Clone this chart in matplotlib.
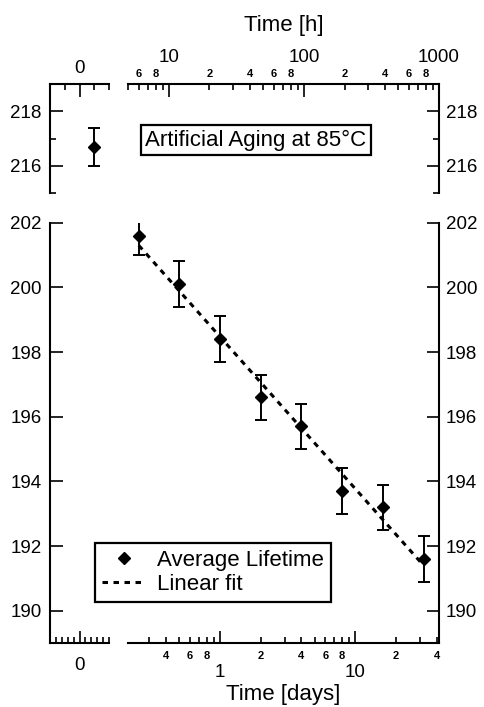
import numpy as np
import matplotlib
matplotlib.use("Agg")
import matplotlib.pyplot as plt
from matplotlib.ticker import MultipleLocator, FuncFormatter, LogLocator

plt.rcParams['font.family'] = ['Liberation Sans', 'DejaVu Sans']

# === Data ===
days = [0.25, 0.5, 1, 2, 4, 8, 16, 32]
lifetime = [201.6, 200.1, 198.4, 196.6, 195.7, 193.7, 193.2, 191.6]
lifetime_err = [0.6, 0.7, 0.7, 0.7, 0.7, 0.7, 0.7, 0.7]

t0_pos = [0.5]          # unaged sample, drawn in the "0" panel
t0_life = [216.7]
t0_err = [0.7]

fit_days = [0.25, 32]
fit_life = [201.3, 191.4]

hours_lim = [5, 1000]
days_lim = [h / 24 for h in hours_lim]

LABEL_FS = 16
TICK_FS = 13.5
MINOR_FS = 8


def major_fmt(v, pos):
    return "%g" % v


def minor_fmt(v, pos):
    d = int(round(v / 10 ** np.floor(np.log10(v))))
    return str(d) if d in (2, 4, 6, 8) else ""


def style_common(ax):
    for s in ax.spines.values():
        s.set_linewidth(1.5)
    ax.tick_params(which='both', direction='in', width=1.2, labelsize=TICK_FS)
    ax.tick_params(which='major', length=9)
    ax.tick_params(which='minor', length=4.5)


fig = plt.figure(figsize=(4.84, 7.07), dpi=100)

x_left, w_left = 50 / 484, 59 / 484
x_right, w_right = 128 / 484, 311 / 484
y_top, h_top = 1 - 193 / 707, 109 / 707
y_bot, h_bot = 1 - 643 / 707, 420.3 / 707

ax_tl = fig.add_axes([x_left, y_top, w_left, h_top])
ax_tr = fig.add_axes([x_right, y_top, w_right, h_top])
ax_bl = fig.add_axes([x_left, y_bot, w_left, h_bot])
ax_br = fig.add_axes([x_right, y_bot, w_right, h_bot])

for ax in (ax_tl, ax_tr, ax_bl, ax_br):
    style_common(ax)

# --- top left: t = 0 ---
ax_tl.errorbar(t0_pos, t0_life, yerr=t0_err, fmt='D', color='k', ms=6.5,
               capsize=4.5, elinewidth=1.4, capthick=1.4)
ax_tl.set_xlim(-1, 1)
ax_tl.set_ylim(215, 219)
ax_tl.spines['right'].set_visible(False)
ax_tl.spines['bottom'].set_visible(False)
ax_tl.xaxis.tick_top()
ax_tl.set_xticks([0])
ax_tl.set_xticklabels(['0'])
ax_tl.xaxis.set_minor_locator(MultipleLocator(0.5))
ax_tl.set_yticks([216, 218])
ax_tl.yaxis.set_minor_locator(MultipleLocator(1))
ax_tl.tick_params(axis='x', which='major', pad=5)
ax_tl.tick_params(axis='y', pad=6)

# --- top right: hours axis ---
ax_tr.set_xscale('log')
ax_tr.set_xlim(*hours_lim)
ax_tr.set_ylim(215, 219)
ax_tr.spines['left'].set_visible(False)
ax_tr.spines['bottom'].set_visible(False)
ax_tr.xaxis.tick_top()
ax_tr.yaxis.tick_right()
ax_tr.xaxis.set_major_locator(LogLocator(base=10))
ax_tr.xaxis.set_major_formatter(FuncFormatter(major_fmt))
ax_tr.xaxis.set_minor_locator(LogLocator(base=10, subs=np.arange(2, 10)))
ax_tr.xaxis.set_minor_formatter(FuncFormatter(minor_fmt))
ax_tr.tick_params(axis='x', which='major', pad=13)
ax_tr.tick_params(axis='x', which='minor', pad=3.5, labelsize=MINOR_FS)
for lab in ax_tr.xaxis.get_minorticklabels():
    lab.set_fontweight('bold')
ax_tr.set_yticks([216, 218])
ax_tr.yaxis.set_minor_locator(MultipleLocator(1))
ax_tr.tick_params(axis='y', pad=5)
ax_tr.xaxis.set_label_position('top')
ax_tr.set_xlabel("Time [h]", fontsize=LABEL_FS, labelpad=13)
ax_tr.text(0.41, 0.486, "Artificial Aging at 85°C", transform=ax_tr.transAxes,
           ha='center', va='center', fontsize=LABEL_FS,
           bbox=dict(boxstyle='square,pad=0.2', fc='white', ec='k', lw=1.6))

# --- bottom left ---
ax_bl.set_xlim(-1, 1)
ax_bl.set_ylim(189, 202)
ax_bl.spines['right'].set_visible(False)
ax_bl.spines['top'].set_visible(False)
ax_bl.set_xticks([0])
ax_bl.set_xticklabels(['0'])
ax_bl.xaxis.set_minor_locator(MultipleLocator(0.2))
ax_bl.set_yticks(np.arange(190, 203, 2))
ax_bl.tick_params(axis='x', which='major', pad=10)
ax_bl.tick_params(axis='y', pad=6)

# --- bottom right: days axis ---
ax_br.errorbar(days, lifetime, yerr=lifetime_err, fmt='none', ecolor='k',
               capsize=4.5, elinewidth=1.4, capthick=1.4)
ax_br.plot(days, lifetime, 'D', color='k', ms=6.5, label="Average Lifetime", zorder=3)
ax_br.plot(fit_days, fit_life, color='k', lw=2.2, ls=(0, (1.8, 1.8)), label="Linear fit")
ax_br.set_xscale('log')
ax_br.set_xlim(*days_lim)
ax_br.set_ylim(189, 202)
ax_br.spines['left'].set_visible(False)
ax_br.spines['top'].set_visible(False)
ax_br.yaxis.tick_right()
ax_br.set_yticks(np.arange(190, 203, 2))
ax_br.xaxis.set_major_locator(LogLocator(base=10))
ax_br.xaxis.set_major_formatter(FuncFormatter(major_fmt))
ax_br.xaxis.set_minor_locator(LogLocator(base=10, subs=np.arange(2, 10)))
ax_br.xaxis.set_minor_formatter(FuncFormatter(minor_fmt))
ax_br.tick_params(axis='x', which='major', pad=15)
ax_br.tick_params(axis='x', which='minor', pad=6, labelsize=MINOR_FS)
for lab in ax_br.xaxis.get_minorticklabels():
    lab.set_fontweight('bold')
ax_br.tick_params(axis='y', pad=5)
ax_br.set_xlabel("Time [days]", fontsize=LABEL_FS, labelpad=2)

handles, labels = ax_br.get_legend_handles_labels()
leg = fig.legend(handles, labels, loc='upper left', bbox_to_anchor=(95 / 484, 1 - 543 / 707),
                 fontsize=LABEL_FS, frameon=True, fancybox=False, framealpha=1,
                 edgecolor='k', borderaxespad=0, borderpad=0.3, handlelength=2.0,
                 handletextpad=0.5, labelspacing=0.15)
leg.get_frame().set_linewidth(1.6)

fig.savefig("out.png", dpi=100)
